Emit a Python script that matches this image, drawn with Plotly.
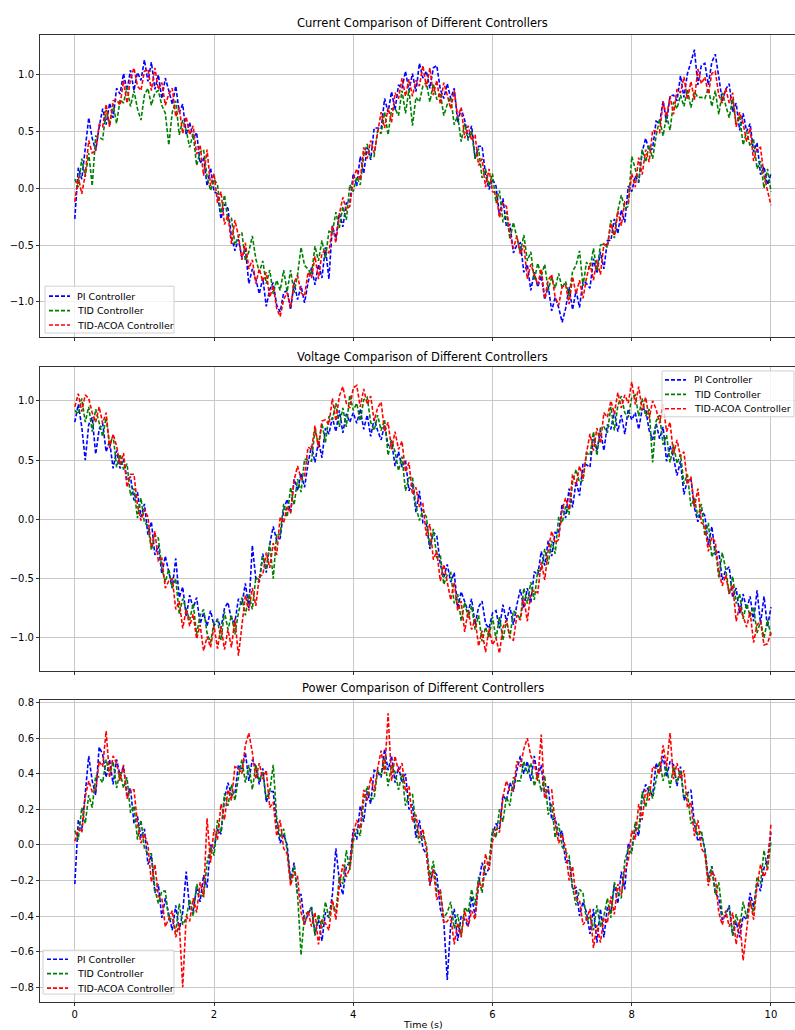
import numpy as np
import plotly.graph_objects as go

# time axis: 0 .. 10 s, 201 samples
time_s = np.linspace(0, 10, 201)

current_pi = [
    -0.27,
    0.18, 0.08, 0.37, 0.62, 0.44, 0.33, 0.54, 0.70, 0.56, 0.75,
    0.62, 0.88, 0.83, 1.01, 0.86, 1.04, 0.86, 1.02, 0.95, 1.13,
    0.94, 1.11, 0.87, 1.00, 0.79, 0.97, 0.86, 0.74, 0.90, 0.67,
    0.74, 0.47, 0.58, 0.44, 0.49, 0.22, 0.27, 0.02, 0.18, -0.03,
    -0.05, -0.27, -0.14, -0.18, -0.43, -0.55, -0.45, -0.61, -0.53, -0.84,
    -0.71, -0.80, -0.93, -0.79, -1.04, -0.89, -0.83, -1.03, -1.09, -0.92,
    -0.90, -1.07, -0.83, -0.98, -0.86, -1.01, -0.83, -0.70, -0.85, -0.67,
    -0.79, -0.52, -0.80, -0.33, -0.44, -0.22, -0.34, -0.13, -0.13, 0.13,
    0.02, 0.28, 0.13, 0.36, 0.25, 0.53, 0.53, 0.52, 0.79, 0.67,
    0.85, 0.69, 0.91, 0.88, 1.03, 0.86, 1.01, 0.85, 1.10, 0.97,
    1.03, 0.88, 1.06, 1.08, 0.87, 0.79, 0.92, 0.79, 0.88, 0.58,
    0.70, 0.60, 0.44, 0.55, 0.26, 0.37, 0.37, 0.12, -0.01, 0.08,
    0.02, -0.24, -0.09, -0.34, -0.32, -0.57, -0.50, -0.48, -0.74, -0.67,
    -0.90, -0.74, -0.87, -0.77, -0.98, -0.86, -1.08, -0.96, -1.05, -1.18,
    -1.06, -0.87, -1.07, -0.90, -1.05, -0.81, -0.84, -0.88, -0.62, -0.75,
    -0.56, -0.71, -0.46, -0.46, -0.27, -0.40, -0.19, -0.30, 0.02, -0.03,
    0.11, 0.05, 0.32, 0.44, 0.33, 0.35, 0.59, 0.57, 0.77, 0.58,
    0.81, 0.82, 0.77, 0.99, 0.80, 1.01, 1.11, 1.22, 0.91, 1.08,
    1.10, 0.91, 1.11, 1.18, 0.98, 0.77, 0.87, 0.92, 0.67, 0.75,
    0.51, 0.66, 0.50, 0.57, 0.32, 0.40, 0.12, 0.19, 0.03, 0.13,
]

current_tid = [
    0.08,
    0.01, 0.26, 0.10, 0.31, 0.02, 0.46, 0.45, 0.43, 0.69, 0.56,
    0.74, 0.57, 0.78, 0.75, 0.89, 0.72, 0.86, 0.70, 0.60, 0.82,
    0.88, 0.73, 0.84, 0.86, 0.73, 0.66, 0.38, 0.67, 0.77, 0.47,
    0.60, 0.51, 0.36, 0.48, 0.20, 0.32, 0.34, 0.10, -0.02, 0.08,
    0.03, -0.22, -0.06, -0.29, -0.26, -0.50, -0.42, -0.39, -0.64, -0.56,
    -0.42, -0.62, -0.74, -0.64, -0.84, -0.72, -0.93, -0.81, -0.90, -0.72,
    -0.91, -0.72, -0.92, -0.76, -0.52, -0.68, -0.71, -0.76, -0.51, -0.64,
    -0.46, -0.62, -0.38, -0.39, -0.21, -0.35, -0.16, -0.28, 0.03, -0.03,
    0.10, 0.03, 0.29, 0.39, 0.27, 0.28, 0.51, 0.48, 0.67, 0.47,
    0.70, 0.70, 0.64, 0.86, 0.66, 0.87, 0.55, 0.80, 0.76, 0.90,
    0.93, 0.76, 0.92, 0.78, 0.84, 0.64, 0.74, 0.80, 0.56, 0.64,
    0.41, 0.57, 0.42, 0.50, 0.26, 0.35, 0.09, 0.17, 0.02, 0.13,
    -0.13, -0.02, -0.30, -0.21, -0.45, -0.30, -0.43, -0.57, -0.41, -0.64,
    -0.56, -0.81, -0.66, -0.77, -0.67, -0.90, -0.78, -0.88, -0.75, -0.88,
    -0.82, -0.95, -0.73, -0.68, -0.55, -0.86, -0.65, -0.71, -0.53, -0.73,
    -0.50, -0.49, -0.52, -0.28, -0.44, -0.20, -0.06, -0.18, -0.16, 0.28,
    0.17, 0.06, 0.34, 0.23, 0.38, 0.26, 0.46, 0.61, 0.46, 0.64,
    0.51, 0.76, 0.70, 0.82, 0.72, 0.87, 0.71, 0.85, 0.80, 0.80,
    0.79, 0.88, 0.72, 0.86, 0.65, 0.84, 0.73, 0.62, 0.79, 0.56,
    0.64, 0.38, 0.50, 0.37, 0.43, 0.17, 0.24, 0.00, 0.17, -0.03,
]

current_acoa = [
    -0.12,
    0.10, -0.05, 0.12, 0.42, 0.31, 0.33, 0.56, 0.54, 0.74, 0.54,
    0.77, 0.78, 0.73, 0.95, 0.75, 0.96, 1.06, 0.90, 0.86, 1.03,
    1.05, 0.86, 1.06, 0.87, 0.93, 0.73, 0.83, 0.88, 0.63, 0.71,
    0.48, 0.63, 0.47, 0.55, 0.30, 0.38, 0.11, 0.34, 0.02, 0.13,
    -0.13, -0.03, -0.32, -0.24, -0.49, -0.28, -0.42, -0.63, -0.48, -0.71,
    -0.63, -0.84, -0.71, -0.82, -0.74, -0.96, -0.86, -1.06, -1.13, -0.98,
    -0.92, -1.05, -0.83, -0.77, -0.92, -0.95, -0.74, -0.79, -0.60, -0.80,
    -0.57, -0.55, -0.57, -0.33, -0.48, -0.23, -0.08, -0.19, -0.16, 0.08,
    0.17, 0.07, 0.36, 0.26, 0.42, 0.31, 0.51, 0.67, 0.53, 0.71,
    0.58, 0.84, 0.79, 0.97, 0.81, 0.96, 0.81, 0.95, 0.90, 1.08,
    0.89, 1.06, 0.82, 0.95, 0.74, 0.93, 0.82, 0.70, 0.86, 0.63,
    0.71, 0.44, 0.55, 0.42, 0.47, 0.20, 0.26, 0.01, 0.17, -0.03,
    -0.04, -0.26, -0.13, -0.16, -0.41, -0.53, -0.42, -0.58, -0.50, -0.80,
    -0.67, -0.76, -0.85, -0.71, -0.97, -0.81, -0.76, -0.96, -1.03, -0.87,
    -0.85, -1.02, -0.78, -0.93, -0.81, -0.97, -0.79, -0.66, -0.81, -0.63,
    -0.76, -0.49, -0.51, -0.31, -0.42, -0.20, -0.33, -0.12, -0.12, 0.13,
    0.01, 0.27, 0.12, 0.34, 0.23, 0.51, 0.50, 0.49, 0.76, 0.63,
    0.81, 0.65, 0.87, 0.84, 0.98, 0.78, 0.94, 0.78, 1.05, 0.92,
    0.98, 0.83, 1.01, 1.03, 0.82, 0.75, 0.88, 0.75, 0.84, 0.54,
    0.67, 0.57, 0.41, 0.53, 0.24, 0.35, 0.36, 0.11, -0.02, -0.15,
]

voltage_pi = [
    0.82,
    0.97, 0.78, 0.50, 0.80, 0.86, 0.55, 0.76, 0.81, 0.57, 0.66,
    0.43, 0.58, 0.43, 0.51, 0.33, 0.36, 0.16, 0.23, 0.02, 0.13,
    -0.13, -0.02, -0.30, -0.22, -0.46, -0.31, -0.44, -0.58, -0.33, -0.66,
    -0.57, -0.82, -0.64, -0.75, -0.66, -0.88, -0.79, -0.90, -0.77, -0.90,
    -0.84, -0.92, -0.75, -0.70, -0.85, -0.87, -0.67, -0.72, -0.54, -0.75,
    -0.22, -0.50, -0.53, -0.29, -0.45, -0.21, -0.06, -0.18, -0.16, 0.08,
    0.17, 0.06, 0.34, 0.24, 0.39, 0.27, 0.47, 0.62, 0.48, 0.66,
    0.52, 0.77, 0.72, 0.86, 0.74, 0.92, 0.73, 0.89, 0.82, 0.90,
    0.81, 0.93, 0.76, 0.88, 0.70, 0.85, 0.75, 0.67, 0.80, 0.62,
    0.66, 0.45, 0.57, 0.44, 0.50, 0.24, 0.31, 0.06, 0.24, -0.03,
    -0.04, -0.25, -0.11, -0.14, -0.38, -0.49, -0.38, -0.53, -0.45, -0.75,
    -0.61, -0.69, -0.78, -0.67, -0.89, -0.74, -0.69, -0.88, -0.92, -0.79,
    -0.77, -0.92, -0.72, -0.86, -0.74, -0.89, -0.72, -0.59, -0.75, -0.58,
    -0.71, -0.44, -0.47, -0.27, -0.39, -0.18, -0.31, -0.11, -0.12, 0.13,
    0.01, 0.26, 0.10, 0.32, 0.20, 0.47, 0.46, 0.44, 0.71, 0.58,
    0.75, 0.58, 0.80, 0.76, 0.91, 0.74, 0.88, 0.72, 0.93, 0.84,
    0.90, 0.76, 0.93, 0.93, 0.75, 0.67, 0.81, 0.68, 0.78, 0.49,
    0.62, 0.52, 0.37, 0.49, 0.21, 0.33, 0.34, 0.10, -0.02, 0.08,
    0.03, -0.22, -0.06, -0.30, -0.27, -0.51, -0.43, -0.40, -0.66, -0.58,
    -0.80, -0.63, -0.76, -0.65, -0.86, -0.60, -0.88, -0.65, -0.91, -0.74,
]

voltage_tid = [
    0.92,
    0.89, 1.02, 0.82, 0.95, 0.74, 0.93, 0.82, 0.70, 0.86, 0.63,
    0.71, 0.44, 0.55, 0.42, 0.47, 0.20, 0.26, 0.01, 0.18, -0.03,
    -0.05, -0.26, -0.13, -0.16, -0.41, -0.53, -0.42, -0.58, -0.50, -0.80,
    -0.67, -0.76, -0.85, -0.71, -0.97, -0.81, -0.76, -0.96, -1.04, -0.87,
    -0.85, -1.02, -0.78, -0.93, -0.81, -0.97, -0.79, -0.66, -0.81, -0.63,
    -0.76, -0.49, -0.51, -0.31, -0.42, -0.20, -0.50, -0.12, -0.13, 0.13,
    0.02, 0.27, 0.12, 0.34, 0.23, 0.51, 0.50, 0.49, 0.76, 0.63,
    0.81, 0.65, 0.87, 0.84, 0.98, 0.78, 0.94, 0.78, 1.05, 0.92,
    0.98, 0.83, 1.01, 1.03, 0.82, 0.75, 0.88, 0.75, 0.84, 0.54,
    0.67, 0.57, 0.41, 0.53, 0.24, 0.35, 0.36, 0.11, -0.01, 0.08,
    0.02, -0.23, -0.08, -0.32, -0.30, -0.55, -0.47, -0.45, -0.71, -0.63,
    -0.86, -0.70, -0.83, -0.73, -0.93, -0.81, -1.03, -0.91, -1.00, -0.82,
    -1.01, -0.82, -1.02, -0.85, -1.00, -0.77, -0.80, -0.84, -0.58, -0.71,
    -0.53, -0.68, -0.43, -0.44, -0.25, -0.38, -0.18, -0.29, 0.02, -0.03,
    0.11, 0.04, 0.31, 0.42, 0.31, 0.33, 0.56, 0.54, 0.74, 0.54,
    0.77, 0.78, 0.73, 0.95, 0.75, 0.96, 1.04, 0.90, 0.86, 1.03,
    1.05, 0.87, 1.02, 0.87, 0.93, 0.48, 0.83, 0.88, 0.63, 0.71,
    0.48, 0.63, 0.47, 0.55, 0.30, 0.38, 0.11, 0.18, 0.02, 0.13,
    -0.14, -0.03, -0.32, -0.24, -0.49, -0.28, -0.42, -0.63, -0.48, -0.71,
    -0.63, -0.84, -0.71, -0.82, -0.74, -0.96, -0.86, -1.00, -0.85, -0.98,
]

voltage_acoa = [
    0.95,
    1.06, 0.91, 1.05, 1.02, 0.90, 0.82, 0.95, 0.81, 0.90, 0.60,
    0.72, 0.62, 0.46, 0.56, 0.27, 0.38, 0.38, 0.12, -0.01, 0.08,
    0.02, -0.24, -0.10, -0.35, -0.33, -0.58, -0.52, -0.50, -0.76, -0.69,
    -0.92, -0.76, -0.90, -0.80, -1.01, -0.89, -1.11, -0.99, -1.08, -0.90,
    -1.09, -0.90, -1.10, -0.93, -1.08, -0.84, -1.15, -0.90, -0.64, -0.77,
    -0.58, -0.73, -0.48, -0.47, -0.28, -0.41, -0.20, -0.30, 0.02, -0.03,
    0.11, 0.05, 0.33, 0.45, 0.34, 0.36, 0.61, 0.59, 0.79, 0.60,
    0.83, 0.84, 0.80, 1.02, 0.83, 1.04, 1.12, 0.98, 0.94, 1.11,
    1.13, 0.95, 1.10, 0.97, 1.04, 0.83, 0.94, 0.99, 0.74, 0.82,
    0.59, 0.74, 0.59, 0.66, 0.40, 0.48, 0.21, 0.27, 0.11, 0.13,
    -0.14, -0.04, -0.34, -0.27, -0.52, -0.38, -0.53, -0.68, -0.53, -0.77,
    -0.69, -0.95, -0.77, -0.93, -0.84, -1.07, -0.94, -1.12, -0.92, -1.06,
    -1.00, -1.13, -0.91, -0.85, -1.00, -1.02, -0.81, -0.85, -0.66, -0.86,
    -0.62, -0.60, -0.62, -0.36, -0.51, -0.26, -0.10, -0.20, -0.17, 0.08,
    0.18, 0.08, 0.38, 0.29, 0.45, 0.34, 0.56, 0.72, 0.58, 0.77,
    0.64, 0.90, 0.86, 1.00, 0.89, 1.07, 0.94, 1.05, 0.98, 1.16,
    0.97, 1.12, 0.92, 1.03, 0.85, 1.00, 0.93, 0.81, 0.97, 0.74,
    0.82, 0.55, 0.67, 0.53, 0.57, 0.30, 0.36, 0.10, 0.26, -0.03,
    -0.05, -0.27, -0.15, -0.19, -0.44, -0.56, -0.47, -0.63, -0.55, -0.86,
    -0.73, -0.82, -0.91, -0.78, -1.04, -0.89, -0.86, -1.06, -1.05, -0.95,
]

power_pi = [
    -0.22,
    0.14, 0.08, 0.30, 0.50, 0.36, 0.28, 0.55, 0.51, 0.38, 0.48,
    0.34, 0.48, 0.39, 0.44, 0.28, 0.32, 0.12, 0.16, 0.04, 0.09,
    -0.11, -0.06, -0.27, -0.22, -0.41, -0.30, -0.39, -0.48, -0.34, -0.48,
    -0.38, -0.15, -0.36, -0.37, -0.24, -0.32, -0.17, -0.24, 0.00, -0.02,
    0.09, 0.06, 0.26, 0.35, 0.28, 0.29, 0.45, 0.42, 0.52, 0.36,
    0.48, 0.44, 0.34, 0.43, 0.24, 0.30, 0.30, 0.11, 0.01, 0.06,
    0.00, -0.20, -0.10, -0.28, -0.28, -0.44, -0.39, -0.35, -0.50, -0.42,
    -0.54, -0.38, -0.41, -0.28, -0.02, -0.20, -0.28, -0.12, -0.10, 0.09,
    0.03, 0.22, 0.13, 0.30, 0.23, 0.42, 0.41, 0.38, 0.54, 0.42,
    0.50, 0.35, 0.44, 0.35, 0.40, 0.20, 0.23, 0.04, 0.14, -0.02,
    -0.05, -0.22, -0.14, -0.17, -0.36, -0.43, -0.76, -0.44, -0.36, -0.54,
    -0.40, -0.42, -0.46, -0.29, -0.40, -0.22, -0.10, -0.17, -0.13, 0.06,
    0.12, 0.09, 0.28, 0.25, 0.35, 0.30, 0.42, 0.50, 0.40, 0.47,
    0.36, 0.50, 0.38, 0.45, 0.27, 0.33, 0.14, 0.15, 0.05, 0.08,
    -0.10, -0.08, -0.25, -0.24, -0.40, -0.32, -0.38, -0.50, -0.36, -0.55,
    -0.36, -0.52, -0.35, -0.38, -0.22, -0.33, -0.15, -0.25, 0.01, -0.03,
    0.10, 0.05, 0.27, 0.34, 0.30, 0.28, 0.46, 0.41, 0.50, 0.38,
    0.47, 0.45, 0.33, 0.44, 0.25, 0.29, 0.31, 0.12, 0.02, 0.05,
    -0.02, -0.19, -0.12, -0.27, -0.30, -0.42, -0.40, -0.34, -0.51, -0.43,
    -0.52, -0.40, -0.42, -0.27, -0.35, -0.21, -0.26, -0.13, -0.08, 0.07,
]

power_tid = [
    0.08,
    0.03, 0.21, 0.12, 0.28, 0.21, 0.39, 0.38, 0.35, 0.48, 0.39,
    0.47, 0.32, 0.41, 0.32, 0.38, 0.18, 0.22, 0.03, 0.14, -0.02,
    -0.05, -0.05, -0.25, -0.33, -0.26, -0.26, -0.42, -0.41, -0.49, -0.33,
    -0.45, -0.41, -0.31, -0.40, -0.22, -0.28, -0.29, -0.10, -0.01, -0.06,
    0.14, 0.07, 0.29, 0.22, 0.34, 0.25, 0.38, 0.48, 0.35, 0.45,
    0.31, 0.45, 0.36, 0.41, 0.26, 0.30, 0.45, 0.15, 0.04, 0.09,
    -0.03, -0.21, -0.12, -0.28, -0.62, -0.39, -0.38, -0.35, -0.51, -0.39,
    -0.47, -0.32, -0.41, -0.32, -0.38, -0.18, -0.22, -0.03, -0.14, 0.02,
    0.09, 0.05, 0.25, 0.33, 0.26, 0.26, 0.42, 0.39, 0.49, 0.33,
    0.45, 0.41, 0.31, 0.40, 0.22, 0.28, 0.29, 0.10, 0.01, 0.06,
    0.00, -0.19, -0.09, -0.26, -0.26, -0.41, -0.38, -0.32, -0.47, -0.39,
    -0.51, -0.35, -0.38, -0.25, -0.34, -0.18, -0.27, -0.11, -0.10, 0.09,
    0.04, 0.20, 0.13, 0.27, 0.22, 0.38, 0.36, 0.36, 0.47, 0.40,
    0.46, 0.33, 0.40, 0.30, 0.39, 0.17, 0.23, 0.04, 0.12, -0.01,
    -0.04, -0.06, -0.24, -0.34, -0.25, -0.27, -0.43, -0.40, -0.48, -0.34,
    -0.46, -0.40, -0.30, -0.41, -0.21, -0.27, -0.30, -0.09, -0.02, -0.05,
    0.13, 0.08, 0.30, 0.21, 0.33, 0.26, 0.37, 0.47, 0.36, 0.44,
    0.32, 0.44, 0.35, 0.42, 0.27, 0.29, 0.12, 0.14, 0.05, 0.08,
    -0.03, -0.21, -0.12, -0.28, -0.21, -0.39, -0.38, -0.35, -0.51, -0.39,
    -0.47, -0.32, -0.41, -0.32, -0.38, -0.18, -0.22, -0.03, -0.14, 0.02,
]

power_acoa = [
    0.02,
    0.09, 0.07, 0.27, 0.36, 0.30, 0.31, 0.47, 0.44, 0.64, 0.38,
    0.50, 0.46, 0.36, 0.45, 0.26, 0.31, 0.31, 0.12, 0.01, 0.06,
    0.00, -0.21, -0.11, -0.29, -0.30, -0.46, -0.41, -0.37, -0.52, -0.44,
    -0.80, -0.40, -0.43, -0.30, -0.38, -0.21, -0.29, 0.15, -0.10, 0.09,
    0.03, 0.23, 0.14, 0.31, 0.25, 0.44, 0.43, 0.40, 0.56, 0.63,
    0.52, 0.37, 0.46, 0.37, 0.42, 0.21, 0.24, 0.05, 0.14, -0.02,
    -0.05, -0.23, -0.15, -0.18, -0.38, -0.45, -0.37, -0.46, -0.38, -0.56,
    -0.42, -0.44, -0.48, -0.31, -0.42, -0.23, -0.11, -0.18, -0.13, 0.06,
    0.14, 0.09, 0.31, 0.25, 0.38, 0.30, 0.43, 0.53, 0.40, 0.74,
    0.36, 0.50, 0.41, 0.46, 0.30, 0.33, 0.13, 0.17, 0.04, 0.09,
    -0.03, -0.23, -0.14, -0.31, -0.25, -0.44, -0.43, -0.40, -0.56, -0.44,
    -0.52, -0.37, -0.46, -0.37, -0.42, -0.21, -0.24, -0.05, -0.14, 0.02,
    0.09, 0.07, 0.27, 0.36, 0.30, 0.31, 0.47, 0.44, 0.54, 0.60,
    0.50, 0.46, 0.36, 0.62, 0.26, 0.31, 0.31, 0.12, 0.01, 0.06,
    -0.02, -0.20, -0.12, -0.30, -0.31, -0.45, -0.42, -0.36, -0.58, -0.45,
    -0.55, -0.41, -0.44, -0.29, -0.39, -0.22, -0.28, -0.14, -0.09, 0.08,
    0.03, 0.23, 0.14, 0.31, 0.25, 0.44, 0.43, 0.40, 0.56, 0.44,
    0.63, 0.37, 0.46, 0.37, 0.42, 0.21, 0.24, 0.05, 0.14, -0.02,
    -0.05, -0.23, -0.15, -0.18, -0.38, -0.45, -0.37, -0.46, -0.38, -0.56,
    -0.42, -0.65, -0.48, -0.31, -0.42, -0.23, -0.11, -0.18, -0.13, 0.12,
]

series_names = ["PI Controller", "TID Controller", "TID-ACOA Controller"]
series_colors = ["#0000ff", "#008000", "#ff0000"]
panel_titles = [
    "Current Comparison of Different Controllers",
    "Voltage Comparison of Different Controllers",
    "Power Comparison of Different Controllers",
]
panels = [
    [current_pi, current_tid, current_acoa],
    [voltage_pi, voltage_tid, voltage_acoa],
    [power_pi, power_tid, power_acoa],
]
x_ticks = [0, 2, 4, 6, 8, 10]
y_ticks = [
    [-1.0, -0.5, 0.0, 0.5, 1.0],
    [-1.0, -0.5, 0.0, 0.5, 1.0],
    [-0.8, -0.6, -0.4, -0.2, 0.0, 0.2, 0.4, 0.6, 0.8],
]

W, H = 795, 1030
FONT = "DejaVu Sans"
DASH = "4px,2px"

# pixel boxes (top, bottom) of each panel
boxes = [(32, 335), (365, 670), (699, 1002)]
y_ranges = [[-1.31, 1.35], [-1.28, 1.286], [-0.884, 0.815]]
title_y = [20, 355, 687]
# legend boxes: (left, top, right, bottom, sample_x0, sample_x1, text_x, first_row_y)
legend_boxes = [
    (45, 284, 174, 331, 49, 70, 75, 294),
    (662, 369, 794, 415, 665, 686, 692, 378),
    (43, 950, 174, 994, 47, 68, 75, 959),
]
ROW = 14.5


def px(x):
    return x / W


def py(y):
    return 1 - y / H


fig = go.Figure()
for p in range(3):
    sfx = "" if p == 0 else str(p + 1)
    for s in range(3):
        fig.add_trace(go.Scatter(
            x=time_s, y=panels[p][s], mode="lines", name=series_names[s],
            line=dict(color=series_colors[s], width=1.6, dash=DASH),
            xaxis="x" + sfx, yaxis="y" + sfx, showlegend=False,
        ))

layout = dict(
    width=W, height=H, margin=dict(l=0, r=0, t=0, b=0),
    paper_bgcolor="white", plot_bgcolor="white",
    font=dict(family=FONT, size=10, color="#000"),
    showlegend=False,
)
axis_common = dict(
    showline=True, linecolor="#333", linewidth=1,
    showgrid=True, gridcolor="#c8c8c8", gridwidth=1,
    zeroline=False, ticks="outside", ticklen=3, tickcolor="#333",
    tickfont=dict(family=FONT, size=10, color="#000"),
)
for p in range(3):
    sfx = "" if p == 0 else str(p + 1)
    top, bot = boxes[p]
    layout["xaxis" + sfx] = dict(
        axis_common, domain=[40 / W, 1.0], range=[-0.5, 10.345],
        tickvals=x_ticks, showticklabels=(p == 2), mirror=True,
        anchor="y" + sfx,
    )
    layout["yaxis" + sfx] = dict(
        axis_common, domain=[1 - bot / H, 1 - top / H], range=y_ranges[p],
        tickvals=y_ticks[p], tickformat=".1f", anchor="x" + sfx,
    )
fig.update_layout(**layout)

# panel titles and x-axis label
for p in range(3):
    sfx = "" if p == 0 else str(p + 1)
    fig.add_annotation(
        x=5, xref="x" + sfx, y=py(title_y[p]), yref="paper",
        text=panel_titles[p], showarrow=False, xanchor="center", yanchor="middle",
        font=dict(family=FONT, size=11.5, color="#000"),
    )
fig.add_annotation(
    x=5, xref="x3", y=py(1024), yref="paper", text="Time (s)",
    showarrow=False, xanchor="center", yanchor="middle",
    font=dict(family=FONT, size=9.5, color="#000"),
)

# legends (one per panel)
for p in range(3):
    l, t, r, b, sx0, sx1, tx, ry = legend_boxes[p]
    fig.add_shape(
        type="rect", xref="paper", yref="paper",
        x0=px(l), x1=px(r), y0=py(b), y1=py(t),
        fillcolor="rgba(255,255,255,0.8)", line=dict(color="#d0d0d0", width=1),
        layer="above",
    )
    for s in range(3):
        yy = ry + s * ROW
        fig.add_shape(
            type="line", xref="paper", yref="paper",
            x0=px(sx0), x1=px(sx1), y0=py(yy), y1=py(yy),
            line=dict(color=series_colors[s], width=1.6, dash=DASH),
            layer="above",
        )
        fig.add_annotation(
            x=px(tx), y=py(yy), xref="paper", yref="paper",
            text=series_names[s], showarrow=False, xanchor="left", yanchor="middle",
            font=dict(family=FONT, size=9.5, color="#000"),
        )

fig.write_html("out.html")
